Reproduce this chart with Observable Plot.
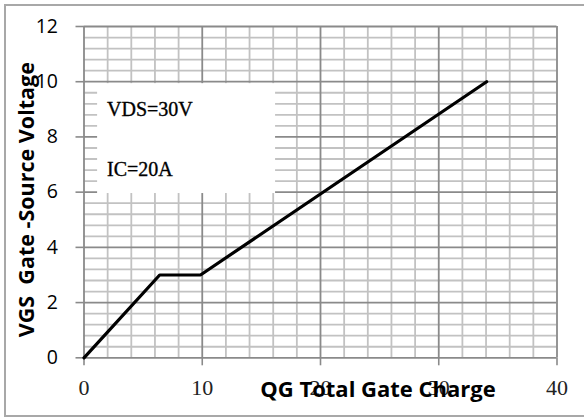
<!DOCTYPE html>
<html><head><meta charset="utf-8">
<script src="https://cdn.jsdelivr.net/npm/d3@7"></script>
<script src="https://cdn.jsdelivr.net/npm/@observablehq/plot@0.6"></script>
<style>
html,body{margin:0;padding:0;background:#fff;}
#wrap{position:relative;width:584px;height:417px;overflow:hidden;}
#border{position:absolute;left:4px;top:4px;width:600px;height:413px;border:2px solid #a8a8a8;box-sizing:border-box;pointer-events:none;}
#wrap svg{position:absolute;left:0;top:0;}
</style>
</head><body>
<div id="wrap"><div id="border"></div></div>
<script>
// Gate charge curve
const qg  = [0, 6.4, 9.85, 34.05];
const vgs = [0, 3, 3, 10];
// tick labels
const xTicks = [0, 10, 20, 30, 40];
const yTicks = [0, 2, 4, 6, 8, 10, 12];
// annotation text
const notes = ["VDS=30V", "IC=20A"];
const noteY = [8.75, 6.58];
const xTitle = "QG Total Gate Charge";
const yTitle = "VGS  Gate -Source Voltage";

const xMinor = d3.range(0, 41, 2).filter(v => v % 10 !== 0);
const yMinor = d3.range(0, 61, 2).map(v => v / 5).filter(v => Math.abs(v / 2 - Math.round(v / 2)) > 1e-6);

const data = qg.map((q, i) => ({q, v: vgs[i]}));
const sans = "'Open Sans', sans-serif";

const chart = Plot.plot({
  width: 584,
  height: 417,
  marginLeft: 83.5,
  marginRight: 27.5,
  marginTop: 26,
  marginBottom: 59.7,
  style: {background: "transparent"},
  x: {domain: [0, 40]},
  y: {domain: [0, 12]},
  marks: [
    Plot.gridY(yMinor, {stroke: "#c2c2c2", strokeOpacity: 1, strokeWidth: 1.8}),
    Plot.gridX(xMinor, {stroke: "#c2c2c2", strokeOpacity: 1, strokeWidth: 1.8}),
    Plot.gridY(yTicks, {stroke: "#8a8a8a", strokeOpacity: 1, strokeWidth: 1.8}),
    Plot.gridX(xTicks, {stroke: "#8a8a8a", strokeOpacity: 1, strokeWidth: 1.8}),
    Plot.rect([0], {x1: 1.15, x2: 16.2, y1: 5.95, y2: 9.93, fill: "white"}),
    Plot.text(notes, {x: 1.95, y: (d, i) => noteY[i], text: d => d, textAnchor: "start", lineAnchor: "bottom",
      fontFamily: "'Liberation Serif', serif", fontSize: 20, fill: "black", stroke: "black", strokeWidth: 0.35}),
    Plot.axisY(yTicks, {label: null, tickSize: 8, tickPadding: 18, stroke: "#8a8a8a", fill: "black", fontSize: 19.5, fontFamily: sans, strokeWidth: 1.6}),
    Plot.axisX(xTicks, {label: null, tickSize: 8, tickPadding: 14, stroke: "#8a8a8a", fill: "#222", fontSize: 22, fontFamily: "'Liberation Serif', serif", strokeWidth: 1.6}),
    Plot.line(data, {x: "q", y: "v", stroke: "black", strokeWidth: 3.2, strokeLinejoin: "miter"}),
    Plot.text([xTitle], {frameAnchor: "bottom", textAnchor: "middle", dx: 57.5, dy: 39.5, lineAnchor: "bottom", fontFamily: sans, fontWeight: "bold", fontSize: 22, fill: "black"}),
    Plot.text([yTitle], {frameAnchor: "left", textAnchor: "middle", dx: -50, dy: 7.5, rotate: -90, lineAnchor: "bottom", fontFamily: sans, fontWeight: "bold", fontSize: 21.5, fill: "black"})
  ]
});
document.getElementById("wrap").prepend(chart);
</script>
</body></html>
